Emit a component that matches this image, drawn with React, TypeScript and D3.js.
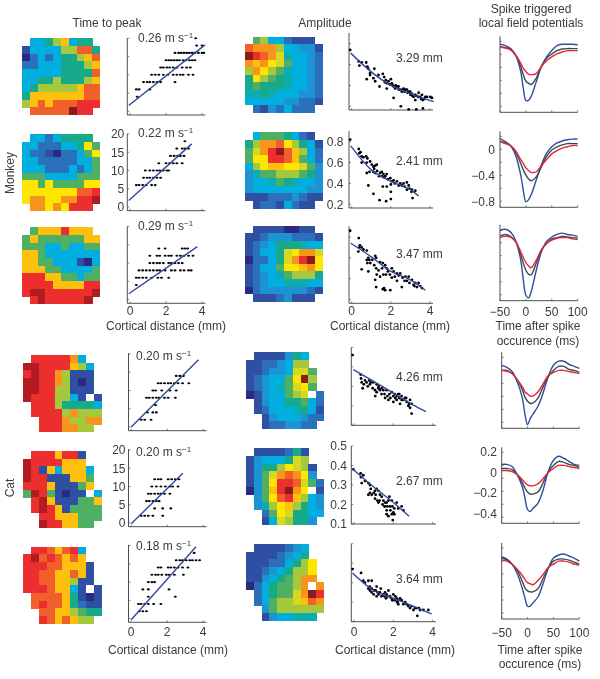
import React from "react";
import * as d3 from "d3";

const PALETTE: Record<string, string> = {
  a: "#2b2a85", b: "#2f4fa2", c: "#2a6fba", d: "#1a93d2", e: "#06aee0", f: "#10acb0", g: "#12a98a",
  h: "#4fb064", i: "#a6c83e", j: "#d8d820", k: "#ffe600", l: "#fdc010", m: "#f7941d", n: "#f1602a",
  o: "#ed2f2f", p: "#b01c22", q: "#8b1a1c", w: "#ffffff",
};

const monkeyTimeMap1 = [".eegilegg.", "beeeeiinng", "aceceggiln", "cceeegggil", "eeeeeggggn", "eeggigggil", "egiiiiilnn", "glllllllnn", "ilnlnnnooo", ".nnnnnqoo."];
const monkeyTimeMap2 = [".eecegggg.", "eeccceegkh", "eccbaccehk", "eeccccceeh", "eeeccceceh", "hhheeeehhh", "kkhkhhhhkk", "kkkkkkknno", "kmmkkmmoop", ".mmkmkooo."];
const monkeyTimeMap3 = [".hlllolll.", "hlhhhhhhll", "hhheeheehh", "llheeeeeee", "llhheeebae", "lllhheeeeh", "ooollhhehh", "oooolllloo", "oppoooooop", ".opooooop."];
const monkeyAmpMap1 = [".hieecbbb.", "nmmmieeddb", "qonmjfeedc", "mlmkjheedc", "imkihfeedc", "gkihgfeedc", "ghgggfeedc", "ffgfeeeddc", "eeeeeddccb", ".cbdceccc."];
const monkeyAmpMap2 = [".ehhhgecb.", "gimmnkigeb", "hjmoqnliec", "hkkoonlhec", "eikllkkjhd", "dfhhiiihgd", "deefhgfeed", "deeeeeeedd", "bbbcccdcbb", ".bccbecbb."];
const monkeyAmpMap3 = [".bbbbaabb.", "bbcdddcccb", "bcdegggfee", "bceegjkmmj", "accegjmoqk", "bceehkklmk", "bcdefhiiig", "bcdeefffee", "acddddddcb", ".bbbcdbbb."];
const catTimeMap1 = [".ooooome..", "ppoooolie.", "opoomibbb.", "ppoomibab.", "ppooiibbb.", "poooiiebwb", ".oooigggge", ".ooooimiii", "..ooomiimm", "..ooommii."];
const catTimeMap2 = [".oooloob..", "poooolll..", "poblellle.", "poobbbllh.", "ooolbbbhl.", "hpohbabbwe", ".oplbbbhhl", ".opolbhhhh", "..oolllhhh", "..poollhh."];
const catTimeMap3 = [".oonlnoe..", "opnonlnl..", "ooonnlllb.", "oonnllnlb.", "oonnllibb.", "ooonllebwb", ".nnnnlgbab", ".nonnlgcbb", "..nnllihgg", "..onlnlii."];
const catAmpMap1 = [".bbbbdge..", "bbccdeii..", "bbcddejjh.", "bcdeehkqi.", "bcdefhjkh.", "abdeehijwc", ".bdeegghec", ".bceeefgeb", "..bdeeedcc", "..bccddcc."];
const catAmpMap2 = [".bbbbcgb..", "bdeeegji..", "bdggikjib.", "bdhjmnmkd.", "bdhkoonjhc", "adhloqmkwb", ".dhknolied", ".dfikliged", "..chkjggee", "..bejiggd."];
const catAmpMap3 = [".bbbbcde..", "bbbbcdeg..", "bbbccegik.", "bbcdegiik.", "bbdeghimm.", "aceghhimwm", ".ceghhjmqo", ".cehiijlnm", "..dhiiiiii", "..bdeefff."];

// Time to peak: [delay level (ms), distances (mm)]
const monkeyTime1: [number, number[]][] = [
  [4, [0.4]], [6, [0.35, 0.5, 1.1]], [8, [0.75, 0.95, 1.1, 1.3, 1.5, 1.7, 2.5]],
  [10, [1.2, 1.4, 1.6, 1.85, 2.1, 2.4, 2.6, 2.8, 2.95, 3.25, 3.5]],
  [12, [1.7, 1.85, 2.05, 2.2, 2.4, 2.6, 2.9, 3.15, 3.35]],
  [14, [2.0, 2.15, 2.3, 2.45, 2.6, 2.75, 2.95, 3.1, 3.3, 3.45, 3.6]],
  [16, [2.5, 2.7, 2.85, 3.0, 3.15, 3.3, 3.45, 3.6, 3.8, 4.0, 4.1]], [18, [3.7, 4.0]], [20, [3.65]],
];
const monkeyTime2: [number, number[]][] = [
  [6, [0.35, 0.5, 0.7, 0.9, 1.2, 1.4]], [8, [0.75, 0.95, 1.1, 1.3, 1.5, 1.7]],
  [10, [0.85, 1.1, 1.3, 1.5, 1.65, 1.85, 2.05, 2.15]], [12, [1.6, 2, 2.2, 2.4, 2.6, 2.9]],
  [14, [2.25, 2.45, 2.65, 2.8, 3]], [16, [2.6, 2.9, 3.05, 3.25]], [18, [3.05]],
];
const monkeyTime3: [number, number[]][] = [
  [4, [0.35]], [6, [0.35, 0.5, 0.7, 0.9, 1.2, 1.55, 1.75, 2.15]],
  [8, [0.5, 0.7, 0.9, 1.1, 1.3, 1.5, 1.65, 1.95, 2.3, 2.5, 2.8, 3, 3.25, 3.4]],
  [10, [1.1, 1.3, 1.5, 1.65, 1.85, 2.15, 2.3, 2.5, 2.7, 2.9]],
  [12, [1.1, 1.5, 1.65, 1.95, 2.15, 2.3, 2.6, 2.8, 3, 3.25, 3.5]], [14, [1.6, 1.95, 2.9, 3.05, 3.2]],
];
const catTime1: [number, number[]][] = [
  [2, [0.55, 0.75, 1.1]], [4, [0.9, 1.2, 1.4]], [6, [1.35]], [8, [0.85, 1, 1.2, 1.4, 1.55, 1.85, 2.05, 2.45]],
  [10, [1.2, 1.35, 1.7, 2.15, 2.5]], [12, [1.5, 1.65, 1.85, 2.05, 2.2, 2.4, 2.6, 2.85, 3.2]], [14, [2.5, 2.7, 2.9]],
];
const catTime2: [number, number[]][] = [
  [2, [0.55, 0.75, 0.95, 1.2, 1.75]], [4, [1.3, 1.75, 2.2]], [6, [0.85, 1, 1.2, 1.4, 1.55]],
  [8, [0.95, 1.1, 1.3, 1.5, 1.65, 1.85, 2.15]], [10, [1.15, 1.4, 1.65, 1.9, 2.15, 2.3, 2.6]],
  [12, [1.3, 1.5, 1.65, 2.05, 2.25, 2.45, 2.65]],
];
const catTime3: [number, number[]][] = [
  [2, [0.45, 0.65, 0.85]], [4, [0.4, 0.55, 0.75, 0.95, 1.25, 1.65]], [6, [0.95, 2.45]], [8, [0.65, 0.95, 2.1]],
  [10, [0.95, 1.15, 1.3]], [12, [1.15, 1.35, 1.5, 1.7, 1.95, 2.1, 2.4, 2.9]],
  [14, [1.5, 1.65, 2.05, 2.2, 2.4, 2.6, 2.85, 3.15]], [16, [2.5, 2.7, 2.85, 3.05, 3.25, 3.4, 3.6, 3.8]], [18, [3.5]],
];
// Fit line ends [x0, y0, x1, y1]
const monkeyTimeFit = [[-0.07, 1.6, 4.17, 18.2], [-0.07, 1.8, 3.43, 17.3], [-0.07, 1.6, 3.74, 14.5]];
const catTimeFit = [[0, 0, 3.74, 18.4], [0, -0.2, 2.87, 13.6], [0, -0.3, 3.6, 19.7]];
const monkeySpeeds = ["0.26", "0.22", "0.29"];
const catSpeeds = ["0.20", "0.20", "0.18"];
const monkeyLengths = ["3.29", "2.41", "3.47"];
const catLengths = ["4.26", "2.67", "3.64"];

type P = [number, number];
const monkeyAmp1: P[] = [[-0.08,.74],[.36,.63],[.39,.59],[.51,.62],[.74,.62],[.8,.58],[.85,.56],[.94,.52],[.77,.46],[.94,.5],[1.11,.47],[1.2,.44],[1.16,.56],[1.37,.5],[1.42,.39],[1.59,.51],[1.66,.48],[1.74,.45],[1.79,.37],[1.88,.44],[2,.46],[2.05,.42],[2.14,.39],[2.22,.37],[2.14,.28],[2.31,.39],[2.39,.39],[2.48,.36],[2.56,.34],[2.51,.2],[2.65,.37],[2.74,.36],[2.82,.36],[2.91,.34],[2.99,.34],[2.91,.17],[3.08,.32],[3.16,.29],[3.25,.31],[3.25,.26],[3.3,.17],[3.42,.33],[3.5,.29],[3.59,.31],[3.64,.26],[3.64,.18],[3.76,.29],[3.85,.29],[4.02,.29],[4.1,.28],[1.7,.43],[1.8,.42],[1.95,.41],[2.1,.4],[2.25,.4],[2.4,.36],[2.6,.36],[2.7,.34],[2.85,.33],[3,.31],[3.1,.3],[3.3,.3],[3.4,.29],[3.55,.27],[3.7,.27]];
const monkeyAmp2: P[] = [[-.08,.82],[.36,.73],[.39,.69],[.51,.66],[.74,.66],[.8,.64],[.51,.6],[.77,.6],[.94,.61],[1.03,.58],[1.11,.56],[1.2,.57],[1.28,.58],[.77,.5],[.91,.51],[.85,.38],[1.11,.51],[1.2,.5],[1.45,.5],[1.54,.51],[1.62,.49],[1.71,.47],[1.79,.49],[1.11,.3],[1.42,.24],[1.76,.23],[2,.25],[1.59,.37],[1.79,.37],[2,.39],[2,.32],[1.97,.45],[2.14,.43],[2.31,.42],[2.48,.4],[2.65,.4],[2.82,.41],[2.91,.38],[2.82,.34],[3.08,.34],[3.11,.26],[3.25,.33],[2.56,.38],[.45,.7],[.6,.65],[1.15,.54],[1.3,.52],[1.4,.47],[1.55,.47],[1.65,.46],[1.85,.44],[2.05,.42],[2.2,.4],[2.4,.38],[2.7,.37],[2.95,.35],[3.05,.32]];
const monkeyAmp3: P[] = [[-.08,.86],[.36,.79],[.39,.7],[.51,.7],[.34,.66],[.77,.67],[1.2,.62],[1.25,.6],[.77,.58],[.9,.58],[.8,.55],[.51,.49],[.85,.47],[1.15,.53],[1.25,.5],[1.37,.48],[1.45,.56],[1.59,.55],[1.71,.53],[1.79,.5],[1.28,.44],[1.2,.39],[1.25,.32],[1.59,.3],[1.71,.29],[1.97,.29],[1.45,.42],[1.62,.44],[2.05,.5],[2.14,.47],[2.31,.45],[2.48,.45],[2.05,.41],[2.56,.32],[2.31,.38],[2.74,.42],[2.91,.42],[2.82,.38],[3.08,.39],[3.16,.34],[3.25,.36],[3.42,.36],[3.33,.32],[3.59,.31],[.85,.6],[1.75,.44],[.42,.72],[.6,.68],[.95,.55],[1.05,.58],[1.55,.5],[1.85,.47],[1.95,.44],[2.2,.42],[2.4,.43],[2.6,.41],[2.7,.38],[2.95,.36],[3.2,.33],[3.5,.33],[1.65,.31]];
const catAmp1: P[] = [[-.07,.46],[.34,.36],[.36,.34],[.39,.32],[.44,.29],[.56,.33],[.64,.32],[.78,.33],[.85,.32],[.81,.31],[.98,.32],[1.15,.31],[1.24,.29],[1.07,.28],[1.15,.27],[1.08,.25],[1.32,.28],[1.41,.29],[1.49,.28],[1.66,.28],[1.58,.24],[1.8,.26],[1.92,.27],[2,.25],[1.75,.23],[2.08,.26],[2.17,.23],[2.25,.26],[2.42,.25],[2.34,.21],[2.59,.24],[2.68,.22],[2.42,.23],[2.85,.23],[2.93,.21],[2.85,.19],[2.93,.16],[2.76,.2],[2.17,.25],[2,.22],[.5,.31],[.7,.3],[.95,.29],[1.25,.3],[1.4,.26],[1.55,.26],[1.7,.25],[1.85,.24],[2.1,.24],[2.3,.24],[2.5,.23],[2.65,.24],[2.8,.21],[2.3,.26]];
const catAmp2: P[] = [[-.03,.38],[.34,.36],[.36,.34],[.39,.31],[.47,.35],[.56,.32],[.73,.31],[.81,.3],[.81,.26],[.73,.25],[.9,.25],[1.07,.27],[1.15,.28],[1.24,.27],[1.07,.23],[1.19,.22],[1.24,.21],[1.32,.25],[1.41,.24],[1.49,.22],[1.58,.21],[1.66,.21],[1.66,.17],[1.8,.24],[1.83,.19],[1.92,.15],[1.97,.12],[2,.16],[1.92,.22],[2.05,.15],[2.17,.21],[2.25,.18],[2.42,.19],[2.51,.17],[1.66,.15],[1.58,.19],[1.75,.22],[.85,.28],[1,.26],[1.1,.25],[1.3,.22],[1.45,.2],[1.55,.19],[1.7,.19],[1.85,.17],[1.95,.19],[1.75,.14],[2.05,.18]];
const catAmp3: P[] = [[-.07,.37],[.36,.35],[.47,.31],[.56,.3],[.73,.31],[.9,.31],[.73,.27],[.81,.26],[.9,.27],[1.02,.26],[1.15,.28],[1.2,.25],[1.15,.23],[1.32,.25],[1.36,.27],[1.49,.24],[1.58,.25],[1.63,.22],[1.75,.26],[1.83,.23],[1.95,.21],[2,.24],[2.08,.21],[2.17,.22],[2.25,.21],[2.34,.22],[2.42,.21],[2.51,.19],[2.68,.19],[2.76,.18],[2.93,.18],[3.02,.16],[3.19,.17],[3.36,.16],[3.22,.13],[3.53,.16],[3.78,.16],[.9,.25],[1.66,.24],[2.25,.19],[.8,.28],[1,.24],[1.1,.26],[1.25,.24],[1.4,.23],[1.55,.23],[1.7,.23],[1.9,.22],[2.1,.23],[2.2,.2],[2.6,.2],[2.85,.17],[3.1,.17],[3.3,.17]];
const monkeyAmpFits: P[][] = [
  [[-.05,.71],[1,.53],[2,.4],[3,.32],[4.19,.245]],
  [[-.05,.76],[1,.53],[2,.42],[3,.34],[3.42,.28]],
  [[-.05,.74],[1,.61],[2,.47],[3,.39],[3.76,.29]],
];
const catAmpFits: P[][] = [
  [[-.03,.385],[1,.325],[2,.265],[3,.205],[3.66,.17]],
  [[-.1,.385],[1,.29],[2,.21],[2.8,.14]],
  [[-.08,.35],[1,.26],[2,.22],[3,.18],[3.95,.14]],
];

const lfpTimes = [-50, -40, -30, -20, -10, -5, 0, 5, 10, 20, 30, 40, 50, 60, 70, 80, 90, 100];
const monkeyLfp1 = [
  [.17,.146,.104,0,-.26,-.52,-.71,-.71,-.65,-.42,-.18,-.03,.07,.146,.167,.167,.167,.161],
  [.13,.115,.09,0,-.18,-.31,-.41,-.44,-.46,-.36,-.18,-.05,.016,.068,.094,.1,.1,.1],
  [.12,.11,.08,0,-.13,-.21,-.26,-.3,-.31,-.29,-.18,-.09,-.03,.016,.047,.068,.068,.068],
];
const monkeyLfp2 = [
  [.18,.13,.07,-.08,-.39,-.63,-.81,-.78,-.7,-.47,-.23,-.05,.05,.11,.14,.16,.17,.17],
  [.14,.11,.07,-.03,-.21,-.31,-.39,-.45,-.48,-.42,-.26,-.1,0,.05,.08,.1,.1,.1],
  [.13,.1,.07,-.01,-.15,-.21,-.28,-.32,-.35,-.34,-.24,-.15,-.06,-.01,.03,.05,.07,.07],
];
const monkeyLfp3 = [
  [.2,.22,.18,.05,-.26,-.57,-.81,-.85,-.76,-.42,-.13,.03,.1,.14,.16,.14,.13,.11],
  [.11,.14,.11,.03,-.18,-.31,-.42,-.48,-.49,-.31,-.1,0,.07,.09,.11,.1,.09,.08],
  [.09,.11,.1,.03,-.13,-.22,-.3,-.35,-.38,-.26,-.1,0,.05,.08,.09,.09,.07,.06],
];
const catLfp1 = [
  [.12,.1,.06,-.04,-.2,-.36,-.46,-.4,-.36,-.28,-.15,.01,.12,.16,.16,.13,.11,.09],
  [.07,.07,.04,-.02,-.12,-.19,-.23,-.25,-.25,-.2,-.09,.01,.07,.11,.11,.08,.07,.05],
  [.07,.06,.04,-.02,-.09,-.14,-.16,-.18,-.18,-.14,-.06,.02,.05,.07,.07,.06,.05,.04],
];
const catLfp2 = [
  [.08,.08,.06,-.02,-.14,-.25,-.36,-.38,-.35,-.3,-.17,.01,.12,.16,.14,.11,.08,.07],
  [.04,.04,.03,-.02,-.1,-.15,-.19,-.21,-.21,-.19,-.1,.01,.07,.11,.1,.08,.07,.05],
  [.02,.02,.01,-.02,-.07,-.1,-.12,-.13,-.13,-.11,-.06,0,.04,.07,.07,.06,.05,.04],
];
const catLfp3 = [
  [.11,.09,.04,-.05,-.2,-.29,-.37,-.37,-.34,-.28,-.15,0,.1,.13,.14,.12,.1,.07],
  [.1,.08,.04,-.02,-.13,-.19,-.22,-.23,-.23,-.2,-.1,0,.07,.09,.09,.08,.06,.04],
  [.08,.07,.04,-.01,-.07,-.11,-.14,-.15,-.16,-.12,-.06,.01,.04,.07,.07,.06,.04,.03],
];
const lfpColors = ["#2e4f9e", "#3d4a4c", "#e3263a"];
const INK = "#3a3a3a";
const FIT = "#2e4a9e";

function Heat({ rows, x, y, w, h }: { rows: string[]; x: number; y: number; w: number; h: number }) {
  const idx = d3.range(10);
  const sx = d3.scaleBand<number>().domain(idx).range([x, x + w]);
  const sy = d3.scaleBand<number>().domain(idx).range([y, y + h]);
  return (
    <g shapeRendering="crispEdges">
      {rows.flatMap((r, j) =>
        r.split("").map((c, i) =>
          PALETTE[c] ? <rect key={i + "-" + j} x={sx(i)} y={sy(j)} width={sx.bandwidth() + 0.3} height={sy.bandwidth() + 0.3} fill={PALETTE[c]} /> : null
        )
      )}
    </g>
  );
}

const T = (p: any) => <text fill={INK} fontSize={12} {...p} />;

function Frame({ ax, end, top, bottom, xs, ys, xTicks, xLabels, yLabels, labelX, xLabelY }: any) {
  return (
    <g>
      <path d={`M${ax},${top}V${bottom}H${end}`} fill="none" stroke={INK} strokeWidth={0.9} />
      {xTicks.map((t: number) => <line key={t} x1={xs(t)} x2={xs(t)} y1={bottom} y2={bottom - 2} stroke={INK} strokeWidth={0.6} />)}
      {ys.map((v: number, i: number) => <line key={i} x1={ax} x2={ax + 2} y1={v} y2={v} stroke={INK} strokeWidth={0.6} />)}
      {yLabels && yLabels.map(([s, py]: [string, number]) => <T key={s} x={labelX} y={py + 4.3} textAnchor="end">{s}</T>)}
      {xLabelY && xTicks.map((t: number, i: number) => <T key={t} x={xs(t)} y={xLabelY} textAnchor="middle">{xLabels[i]}</T>)}
    </g>
  );
}

function TimePanel({ data, fit, speed, top, bottom, ax, textX, textY, showY, xLabelY }: any) {
  const xs = d3.scaleLinear().domain([0, 4]).range([ax + 2.7, ax + 74.7]);
  const ys = d3.scaleLinear().domain([0, 20]).range([bottom - 3.7, bottom - 76.7]);
  const vals = [0, 5, 10, 15, 20];
  return (
    <g>
      <Frame ax={ax} end={ax + 78} top={top} bottom={bottom} xs={xs} ys={vals.map((v) => ys(v))} xTicks={[0, 2, 4]} xLabels={["0", "2", "4"]}
        yLabels={showY ? vals.map((v) => [String(v), ys(v)]) : null} labelX={ax - 3} xLabelY={xLabelY} />
      {data.flatMap(([lvl, xsv]: [number, number[]]) => xsv.map((d, i) => <ellipse key={lvl + "-" + i} cx={xs(d)} cy={ys(lvl)} rx={1.5} ry={1.05} fill="#000" />))}
      <line x1={xs(fit[0])} y1={ys(fit[1])} x2={xs(fit[2])} y2={ys(fit[3])} stroke={FIT} strokeWidth={1.4} />
      <T x={textX} y={textY}>{speed} m s<tspan dy={-4} fontSize={8}>−1</tspan></T>
    </g>
  );
}

function AmpPanel({ data, fit, len, top, bottom, ax, end, x0, x4, yDomain, yRange, tickVals, showY, labelX, textY, xLabelY }: any) {
  const xs = d3.scaleLinear().domain([0, 4]).range([x0, x4]);
  const ys = d3.scaleLinear().domain(yDomain).range(yRange);
  const line = d3.line<P>().x((d) => xs(d[0])).y((d) => ys(d[1])).curve(d3.curveMonotoneX);
  return (
    <g>
      <Frame ax={ax} end={end} top={top} bottom={bottom} xs={xs} ys={tickVals.map((v: number) => ys(v))} xTicks={[0, 2, 4]} xLabels={["0", "2", "4"]}
        yLabels={showY ? tickVals.map((v: number) => [v.toFixed(1), ys(v)]) : null} labelX={labelX} xLabelY={xLabelY} />
      {data.map((d: P, i: number) => <circle key={i} cx={xs(d[0])} cy={ys(d[1])} r={1.4} fill="#000" />)}
      <path d={line(fit) as string} fill="none" stroke={FIT} strokeWidth={1.4} />
      <T x={396} y={textY}>{len} mm</T>
    </g>
  );
}

function LfpPanel({ series, top, bottom, ax, end, zero, pxPerUnit, tickVals, labelX, xLabelY }: any) {
  const xs = d3.scaleLinear().domain([-50, 100]).range([ax, end]);
  const ys = d3.scaleLinear().domain([0, 1]).range([bottom - zero, bottom - zero - pxPerUnit]);
  const line = d3.line<number>().x((_, i) => xs(lfpTimes[i])).y((d) => ys(d)).curve(d3.curveCatmullRom);
  const fmt = (v: number) => (v === 0 ? "0" : v < 0 ? "−" + Math.abs(v).toFixed(1) : v.toFixed(1));
  const allTicks = tickVals || [];
  return (
    <g>
      <Frame ax={ax} end={end} top={top} bottom={bottom} xs={xs} ys={d3.range(0, 6).map((k) => bottom - 6 - k * 13)} xTicks={[-50, 0, 50, 100]}
        xLabels={["−50", "0", "50", "100"]} yLabels={allTicks.length ? allTicks.map((v: number) => [fmt(v), ys(v)]) : null} labelX={labelX} xLabelY={xLabelY} />
      {series.map((s: number[], i: number) => <path key={i} d={line(s) as string} fill="none" stroke={lfpColors[i]} strokeWidth={1.4} />)}
    </g>
  );
}

const monkeyTimeMaps = [monkeyTimeMap1, monkeyTimeMap2, monkeyTimeMap3];
const monkeyAmpMaps = [monkeyAmpMap1, monkeyAmpMap2, monkeyAmpMap3];
const catTimeMaps = [catTimeMap1, catTimeMap2, catTimeMap3];
const catAmpMaps = [catAmpMap1, catAmpMap2, catAmpMap3];
const monkeyTimeY = [38.3, 134.3, 227.3];
const monkeyAmpY = [36.7, 132.3, 225.7];
const catTimeY = [355, 451, 546.7];
const catAmpY = [352.3, 448.3, 544];
const monkeyTimeBottom = [115, 210.7, 303.3];
const catTimeBottom = [430.7, 526.7, 622.3];
const monkeyAmpBottom = [110, 208, 303.3];
const catAmpBottom = [425.3, 524, 621.7];
const monkeyLfpBottom = [112.3, 207.3, 300.7];
const catLfpBottom = [428.3, 523.3, 619];
const monkeySpeedY = [42, 137, 230];
const catSpeedY = [360, 456, 550];
const monkeyLenY = [62, 165, 258];
const catLenY = [381, 485, 583];

export default function App() {
  return (
    <svg width={600} height={679} viewBox="0 0 600 679" style={{ position: "absolute", left: 0, top: 0, background: "#fff" }} fontFamily="'Liberation Sans', Arial, sans-serif">
      <defs><filter id="soft" x="0" y="0" width="100%" height="100%"><feGaussianBlur stdDeviation="0.35" /></filter></defs>
      <g filter="url(#soft)">
        <T x={107} y={27} textAnchor="middle">Time to peak</T>
        <T x={325} y={27} textAnchor="middle">Amplitude</T>
        <T x={531} y={13} textAnchor="middle">Spike triggered</T>
        <T x={531} y={27} textAnchor="middle">local field potentials</T>
        <T transform="translate(14,173) rotate(-90)" textAnchor="middle">Monkey</T>
        <T transform="translate(14,488) rotate(-90)" textAnchor="middle">Cat</T>

        {monkeyTimeMaps.map((m, i) => <Heat key={i} rows={m} x={22} y={monkeyTimeY[i]} w={78} h={76.7} />)}
        {monkeyAmpMaps.map((m, i) => <Heat key={i} rows={m} x={244.7} y={monkeyAmpY[i]} w={78} h={76} />)}
        {catTimeMaps.map((m, i) => <Heat key={i} rows={m} x={23.3} y={catTimeY[i]} w={78} h={77} />)}
        {catAmpMaps.map((m, i) => <Heat key={i} rows={m} x={246} y={catAmpY[i]} w={78} h={76.5} />)}

        {[monkeyTime1, monkeyTime2, monkeyTime3].map((d, i) => (
          <TimePanel key={i} data={d} fit={monkeyTimeFit[i]} speed={monkeySpeeds[i]} top={monkeyTimeBottom[i] - 77} bottom={monkeyTimeBottom[i]} ax={127.3}
            textX={138} textY={monkeySpeedY[i]} showY={i === 1} xLabelY={i === 2 ? 315 : null} />
        ))}
        {[catTime1, catTime2, catTime3].map((d, i) => (
          <TimePanel key={i} data={d} fit={catTimeFit[i]} speed={catSpeeds[i]} top={catTimeBottom[i] - 77.5} bottom={catTimeBottom[i]} ax={128.5}
            textX={136} textY={catSpeedY[i]} showY={i === 1} xLabelY={i === 2 ? 636 : null} />
        ))}
        {[monkeyAmp1, monkeyAmp2, monkeyAmp3].map((d, i) => (
          <AmpPanel key={i} data={d} fit={monkeyAmpFits[i]} len={monkeyLengths[i]} top={monkeyAmpBottom[i] - 77} bottom={monkeyAmpBottom[i]} ax={349} end={433} x0={351.7} x4={430}
            yDomain={[0.2, 0.8]} yRange={[monkeyAmpBottom[i] - 3.7, monkeyAmpBottom[i] - 66.3]} tickVals={[0.2, 0.4, 0.6, 0.8]} showY={i === 1} labelX={343.5} textY={monkeyLenY[i]} xLabelY={i === 2 ? 315 : null} />
        ))}
        {[catAmp1, catAmp2, catAmp3].map((d, i) => (
          <AmpPanel key={i} data={d} fit={catAmpFits[i]} len={catLengths[i]} top={catAmpBottom[i] - 78} bottom={catAmpBottom[i]} ax={351.3} end={436} x0={354} x4={432.7}
            yDomain={[0.1, 0.5]} yRange={[catAmpBottom[i], catAmpBottom[i] - 78]} tickVals={[0.1, 0.2, 0.3, 0.4, 0.5]} showY={i === 1} labelX={347} textY={catLenY[i]} xLabelY={i === 2 ? 636 : null} />
        ))}
        {[monkeyLfp1, monkeyLfp2, monkeyLfp3].map((s, i) => (
          <LfpPanel key={i} series={s} top={monkeyLfpBottom[i] - 76} bottom={monkeyLfpBottom[i]} ax={500} end={577.7} zero={57.3} pxPerUnit={64}
            tickVals={i === 1 ? [0, -0.4, -0.8] : null} labelX={495} xLabelY={i === 2 ? 316 : null} />
        ))}
        {[catLfp1, catLfp2, catLfp3].map((s, i) => (
          <LfpPanel key={i} series={s} top={catLfpBottom[i] - 76} bottom={catLfpBottom[i]} ax={501.7} end={579.3} zero={50.7} pxPerUnit={102.5}
            tickVals={i === 1 ? [0.2, 0, -0.2, -0.4] : null} labelX={497} xLabelY={i === 2 ? 637 : null} />
        ))}

        <T x={166} y={330} textAnchor="middle">Cortical distance (mm)</T>
        <T x={390} y={330} textAnchor="middle">Cortical distance (mm)</T>
        <T x={168} y={654} textAnchor="middle">Cortical distance (mm)</T>
        <T x={395} y={654} textAnchor="middle">Cortical distance (mm)</T>
        <T x={538} y={330} textAnchor="middle">Time after spike</T>
        <T x={538} y={345} textAnchor="middle">occurence (ms)</T>
        <T x={540} y={654} textAnchor="middle">Time after spike</T>
        <T x={540} y={668} textAnchor="middle">occurence (ms)</T>
      </g>
    </svg>
  );
}
